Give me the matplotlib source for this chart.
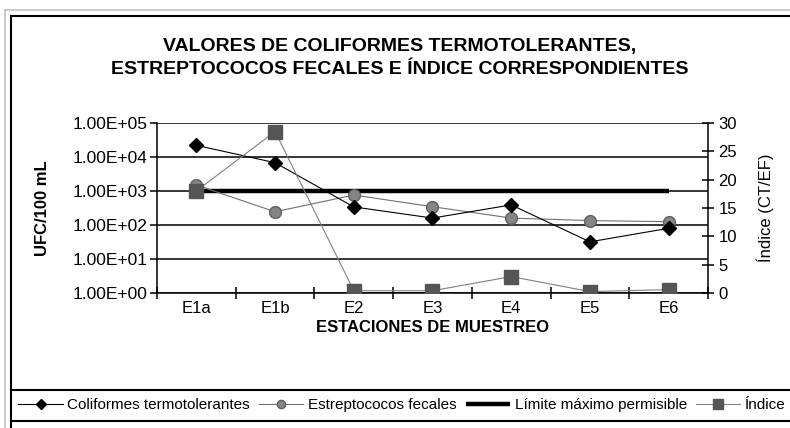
import numpy as np
import matplotlib.pyplot as plt
from matplotlib.lines import Line2D
from matplotlib.ticker import FixedLocator, FuncFormatter

plt.rcParams['font.family'] = ['Liberation Sans', 'DejaVu Sans']

# datos
estaciones = ['E1a', 'E1b', 'E2', 'E3', 'E4', 'E5', 'E6']
coliformes = [22000, 6800, 340, 160, 390, 32, 80]
estreptococos = [1500, 245, 760, 345, 160, 135, 125]
limite = [1000, 1000, 1000, 1000, 1000, 1000, 1000]
indice = [18.0, 28.5, 0.4, 0.4, 2.9, 0.25, 0.6]

W, H = 790, 428
fig = plt.figure(figsize=(W / 100, H / 100), dpi=100)

def fx(px):
    return px / W

def fy(py):
    return 1 - py / H

ax = fig.add_axes([fx(157), fy(293), fx(708) - fx(157), fy(123) - fy(293)])
x = np.arange(len(estaciones))

ax.plot(x, limite, color='black', lw=3.2, solid_capstyle='butt', zorder=3,
        label='Límite máximo permisible')
ax.plot(x, coliformes, color='black', lw=0.8, marker='D', ms=7,
        mfc='black', mec='black', zorder=5, label='Coliformes termotolerantes')
ax.plot(x, estreptococos, color='#707070', lw=0.8, marker='o', ms=8.5,
        mfc='#858585', mec='#606060', zorder=4, label='Estreptococos fecales')

ax.set_yscale('log')
ax.set_ylim(1, 1e5)
ax.set_xlim(-0.5, len(estaciones) - 0.5)
ax.yaxis.set_major_locator(FixedLocator([10.0 ** k for k in range(6)]))
ax.yaxis.set_minor_locator(FixedLocator([]))
ax.yaxis.set_major_formatter(FuncFormatter(lambda v, p: f"{v:.2E}"))
ax.grid(axis='y', color='black', lw=1.1)
ax.set_axisbelow(True)

ax.xaxis.set_major_locator(FixedLocator(np.arange(-0.5, len(estaciones), 1.0)))
ax.xaxis.set_major_formatter(FuncFormatter(lambda v, p: ''))
ax.xaxis.set_minor_locator(FixedLocator(x))
ax.set_xticklabels(estaciones, minor=True)
ax.tick_params(axis='x', which='major', direction='inout', length=9, width=1.1)
ax.tick_params(axis='x', which='minor', length=0, pad=6, labelsize=12)
ax.tick_params(axis='y', direction='out', length=5, width=1.1, labelsize=12.5, pad=2)

for s in ['left', 'bottom']:
    ax.spines[s].set_linewidth(1.1)
ax.spines['top'].set_visible(False)
ax.spines['right'].set_visible(False)

ax.set_ylabel('UFC/100 mL', fontsize=12, fontweight='bold', labelpad=16)
ax.set_xlabel('ESTACIONES DE MUESTREO', fontsize=12, fontweight='bold', labelpad=3)

ax2 = ax.twinx()
ax2.plot(x, indice, color='#808080', lw=0.8, marker='s', ms=10.5,
         mfc='#555555', mec='#555555', zorder=6, label='Índice')
ax2.set_ylim(0, 30)
ax2.set_yticks(np.arange(0, 31, 5))
ax2.tick_params(axis='y', direction='inout', length=9, width=1.1, labelsize=12, pad=3)
ax2.spines['right'].set_linewidth(1.1)
ax2.spines['top'].set_visible(False)
ax2.spines['left'].set_visible(False)
ax2.spines['bottom'].set_visible(False)
ax2.set_ylabel('Índice (CT/EF)', fontsize=12, labelpad=14)

fig.text(fx(400), fy(47), 'VALORES DE COLIFORMES TERMOTOLERANTES,',
         ha='center', va='center', fontsize=14, fontweight='bold')
fig.text(fx(400), fy(70), 'ESTREPTOCOCOS FECALES E ÍNDICE CORRESPONDIENTES',
         ha='center', va='center', fontsize=14, fontweight='bold')

# marcos del gráfico
frame = [
    ((5, 5), (10, H), '#c0c0c0', 1.2),
    ((5, W + 5), (10, 10), '#c0c0c0', 1.2),
    ((11, 11), (16, H), 'black', 1.5),
    ((11, W + 5), (16, 16), 'black', 1.5),
    ((11, W + 5), (390, 390), 'black', 1.5),
    ((11, W + 5), (421, 421), 'black', 1.5),
]
for xs, ys, c, lw in frame:
    fig.add_artist(Line2D([fx(xs[0]), fx(xs[1])], [fy(ys[0]), fy(ys[1])],
                          transform=fig.transFigure, color=c, lw=lw))

h1, l1 = ax.get_legend_handles_labels()
h2, l2 = ax2.get_legend_handles_labels()
handles = [h1[1], h1[2], h1[0], h2[0]]
labels = [l1[1], l1[2], l1[0], l2[0]]
fig.legend(handles, labels, loc='center', bbox_to_anchor=(fx(402), fy(405)),
           ncol=4, frameon=False, fontsize=11, handlelength=2.9,
           handletextpad=0.3, columnspacing=0.6, borderaxespad=0,
           markerscale=0.7)

fig.savefig('out.png', dpi=100)
